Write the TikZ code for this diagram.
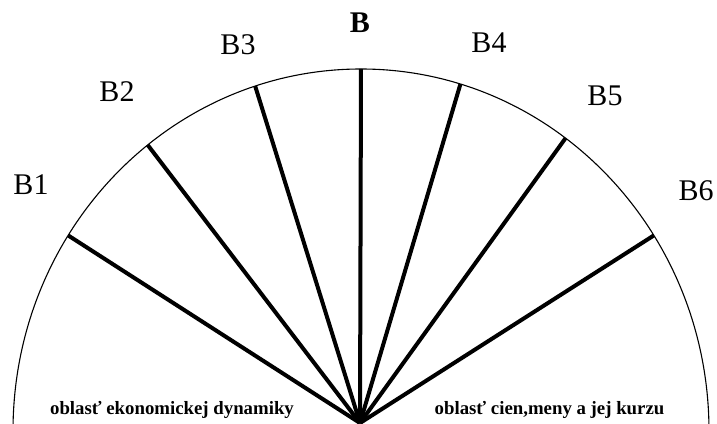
\documentclass[tikz,border=0pt]{standalone}
\usepackage{fontspec}
\setmainfont{Liberation Serif}
\usepackage{tikz}
\usetikzlibrary{calc,positioning}

\tikzset{
  spoke/.style={line width=4pt},
  rim/.style={line width=1.1pt},
  blabel/.style={font=\fontsize{30}{32}\selectfont},
  area/.style={font=\bfseries\fontsize{18.8}{20}\selectfont,anchor=base}
}

\begin{document}
\begin{tikzpicture}[x=1pt,y=1pt]
    \useasboundingbox (-360,0) rectangle (357,423);
    \fill[white] (-360,0) rectangle (357,423);
    \coordinate (o) at (0,0);
    % rim of the half circle
    \draw[rim] (349,-8) arc[start angle=0,end angle=180,x radius=348,y radius=362];
    % spokes B1 ... B6
    \foreach \n/\t in {1/147.3, 2/127.8, 3/107.7, 0/90, 4/73.4, 5/54, 6/32.7}
      \coordinate (e\n) at ({1+348*cos(\t)},{-8+362*sin(\t)});
    \foreach \n in {1,2,3,0,4,5,6} \draw[spoke] (o) -- (e\n);
    \node[blabel] (b1) at (-329,238) {B1};
    \node[blabel] (b2) at (-243,331) {B2};
    \node[blabel] (b3) at (-122,378) {B3};
    \node[blabel,font=\bfseries\fontsize{30}{32}\selectfont] (b0) at (0,400) {B};
    \node[blabel] (b4) at (129,380) {B4};
    \node[blabel] (b5) at (245,327) {B5};
    \node[blabel] (b6) at (336,232) {B6};
    \node[area] (left) at (-188,9) {oblasť ekonomickej dynamiky};
    \node[area] (right) at (189.5,9) {oblasť cien,meny a jej kurzu};
\end{tikzpicture}
\end{document}
